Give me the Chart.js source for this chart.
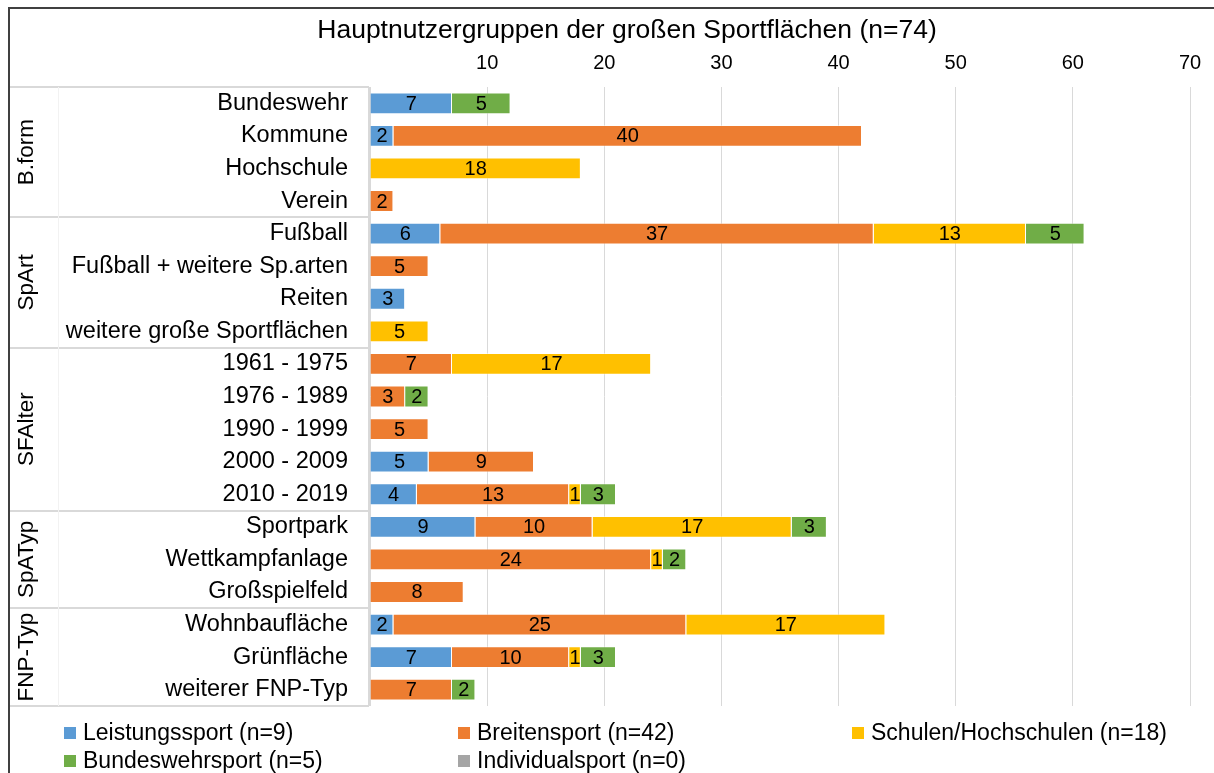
<!DOCTYPE html>
<html>
<head>
<meta charset="utf-8">
<script src="https://cdn.jsdelivr.net/npm/chart.js@4/dist/chart.umd.min.js"></script>
<style>
  html, body { margin: 0; padding: 0; background: #fff; }
</style>
</head>
<body>
<canvas id="c" width="1214" height="773"></canvas>
<script>
// categories (top to bottom)
const categories = ['Bundeswehr', 'Kommune', 'Hochschule', 'Verein',
  'Fußball', 'Fußball + weitere Sp.arten', 'Reiten', 'weitere große Sportflächen',
  '1961 - 1975', '1976 - 1989', '1990 - 1999', '2000 - 2009', '2010 - 2019',
  'Sportpark', 'Wettkampfanlage', 'Großspielfeld',
  'Wohnbaufläche', 'Grünfläche', 'weiterer FNP-Typ'];
// group name + how many rows it spans
const groups = ['B.form', 'SpArt', 'SFAlter', 'SpATyp', 'FNP-Typ'];
const groupSizes = [4, 4, 5, 3, 3];

const seriesNames = ['Leistungssport (n=9)', 'Breitensport (n=42)', 'Schulen/Hochschulen (n=18)',
  'Bundeswehrsport (n=5)', 'Individualsport (n=0)'];
const leistung   = [7, 2, 0, 0, 6, 0, 3, 0, 0, 0, 0, 5, 4, 9, 0, 0, 2, 7, 0];
const breiten    = [0, 40, 0, 2, 37, 5, 0, 0, 7, 3, 5, 9, 13, 10, 24, 8, 25, 10, 7];
const schulen    = [0, 0, 18, 0, 13, 0, 0, 5, 17, 0, 0, 0, 1, 17, 1, 0, 17, 1, 0];
const bundeswehr = [5, 0, 0, 0, 5, 0, 0, 0, 0, 2, 0, 0, 3, 3, 2, 0, 0, 3, 2];
const individual = [0, 0, 0, 0, 0, 0, 0, 0, 0, 0, 0, 0, 0, 0, 0, 0, 0, 0, 0];
const colors = ['#5b9bd5', '#ed7d31', '#ffc000', '#70ad47', '#a5a5a5'];

const title = 'Hauptnutzergruppen der großen Sportflächen (n=74)';
const FONT = '"Liberation Sans", Arial, sans-serif';

const allSeries = [leistung, breiten, schulen, bundeswehr, individual];
const datasets = allSeries.map((d, i) => ({
  label: seriesNames[i],
  data: d,
  backgroundColor: colors[i],
  borderColor: 'rgba(255,255,255,0.45)',
  borderWidth: 1,
  categoryPercentage: 1,
  barPercentage: 0.67
}));

// values written in the middle of each segment
const valueLabels = {
  id: 'valueLabels',
  afterDatasetsDraw(chart) {
    const ctx = chart.ctx;
    ctx.save();
    ctx.font = '20px ' + FONT;
    ctx.fillStyle = '#000';
    ctx.textAlign = 'center';
    ctx.textBaseline = 'middle';
    chart.data.datasets.forEach((ds, i) => {
      chart.getDatasetMeta(i).data.forEach((el, j) => {
        const v = ds.data[j];
        if (!v) return;
        ctx.fillText(String(v), (el.x + el.base) / 2, el.y + 1);
      });
    });
    ctx.restore();
  }
};

// title, frame, group boxes and rotated group names, legend
const decor = {
  id: 'decor',
  afterDraw(chart) {
    const ctx = chart.ctx;
    const area = chart.chartArea;
    const step = (area.bottom - area.top) / categories.length;
    ctx.save();

    // outer frame
    ctx.strokeStyle = '#404040';
    ctx.lineWidth = 2;
    ctx.strokeRect(9, 8, 1230, 800);

    // title
    ctx.fillStyle = '#000';
    ctx.font = '26.5px ' + FONT;
    ctx.textAlign = 'center';
    ctx.textBaseline = 'alphabetic';
    ctx.fillText(title, 627, 38);

    // group boxes
    const left = 10, right = area.left - 1;
    ctx.strokeStyle = '#d9d9d9';
    ctx.lineWidth = 2;
    let row = 0;
    const edges = [area.top];
    groupSizes.forEach(n => { row += n; edges.push(area.top + row * step); });
    edges.forEach(e => {
      ctx.beginPath();
      ctx.moveTo(left, Math.round(e));
      ctx.lineTo(right, Math.round(e));
      ctx.stroke();
    });
    ctx.beginPath();
    ctx.moveTo(right, area.top);
    ctx.lineTo(right, area.bottom);
    ctx.stroke();
    ctx.lineWidth = 1;
    ctx.strokeStyle = '#f2f2f2';
    ctx.beginPath();
    ctx.moveTo(58.5, area.top);
    ctx.lineTo(58.5, area.bottom);
    ctx.stroke();

    ctx.fillStyle = '#000';
    ctx.font = '22.5px ' + FONT;
    groups.forEach((g, i) => {
      const mid = (edges[i] + edges[i + 1]) / 2;
      ctx.save();
      ctx.translate(33, mid);
      ctx.rotate(-Math.PI / 2);
      ctx.textAlign = 'center';
      ctx.textBaseline = 'alphabetic';
      ctx.fillText(g, 0, 0);
      ctx.restore();
    });

    // legend
    const legX = [64, 458, 852, 64, 458];
    const legY = [740, 740, 740, 768, 768];
    ctx.font = '23px ' + FONT;
    ctx.textAlign = 'left';
    ctx.textBaseline = 'alphabetic';
    chart.data.datasets.forEach((ds, i) => {
      ctx.fillStyle = ds.backgroundColor;
      ctx.fillRect(legX[i], legY[i] - 13, 12, 12);
      ctx.fillStyle = '#000';
      ctx.fillText(ds.label, legX[i] + 19, legY[i]);
    });
    ctx.restore();
  }
};

new Chart(document.getElementById('c'), {
  type: 'bar',
  data: { labels: categories, datasets: datasets },
  options: {
    indexAxis: 'y',
    responsive: false,
    animation: false,
    layout: { padding: { top: 47, bottom: 67, right: 24, left: 0 } },
    plugins: {
      legend: { display: false },
      title: { display: false },
      tooltip: { enabled: false }
    },
    scales: {
      x: {
        position: 'top',
        stacked: true,
        min: 0,
        max: 70,
        afterFit(scale) { scale.height = 40; },
        ticks: {
          stepSize: 10,
          padding: 12,
          color: '#000',
          font: { family: FONT, size: 20 },
          callback: v => (v === 0 ? '' : v)
        },
        grid: { color: '#d9d9d9', lineWidth: 1, drawTicks: false },
        border: { display: false }
      },
      y: {
        stacked: true,
        afterFit(scale) { scale.width = 370; },
        ticks: {
          autoSkip: false,
          padding: 22,
          color: '#000',
          font: { family: FONT, size: 23.5 }
        },
        grid: { display: false, drawTicks: false },
        border: { display: false }
      }
    }
  },
  plugins: [valueLabels, decor]
});
</script>
</body>
</html>
